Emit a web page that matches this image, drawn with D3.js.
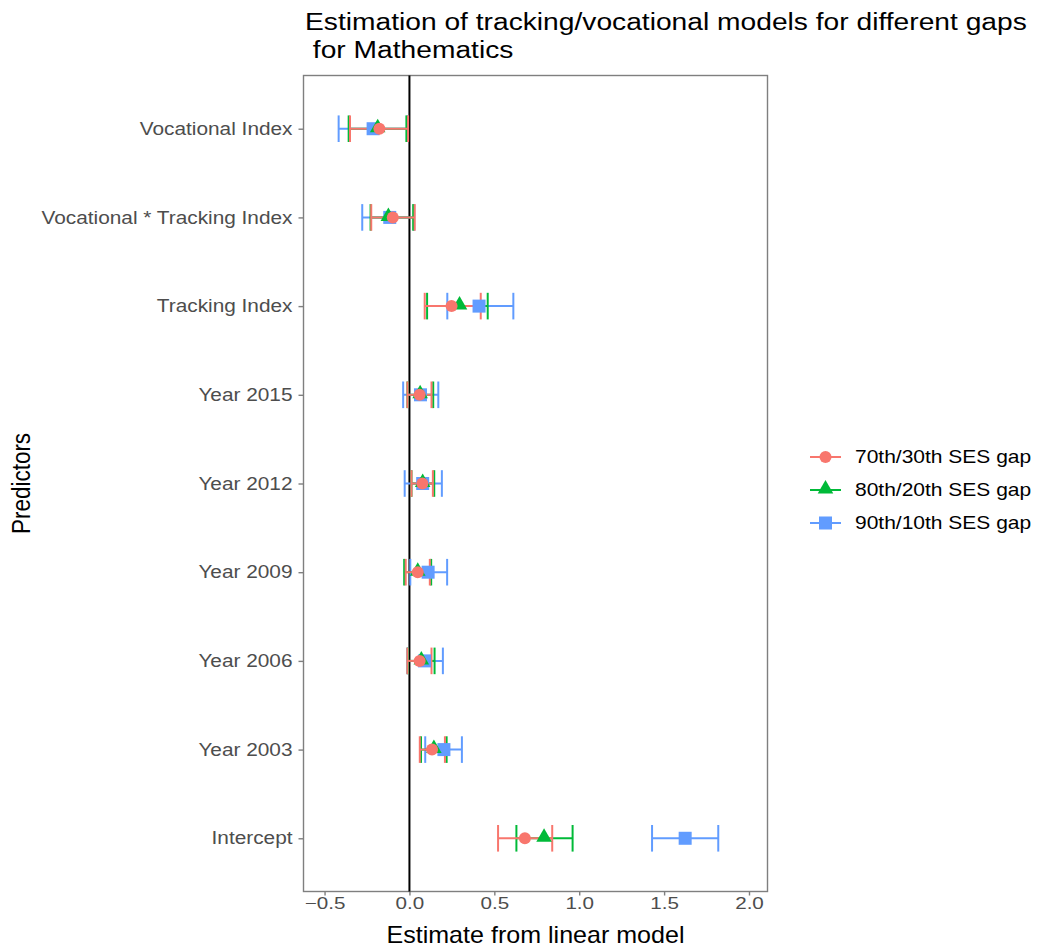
<!DOCTYPE html>
<html>
<head>
<meta charset="utf-8">
<script src="https://cdn.jsdelivr.net/npm/d3@7"></script>
<style>
  body { margin: 0; background: #fff; }
  svg { display: block; font-family: "Liberation Sans", Arial, Helvetica, sans-serif; }
</style>
</head>
<body>
<div id="chart"></div>
<script>
// predictors, top to bottom
var predictors = ["Vocational Index", "Vocational * Tracking Index", "Tracking Index",
  "Year 2015", "Year 2012", "Year 2009", "Year 2006", "Year 2003", "Intercept"];

var gaps = ["70th/30th SES gap", "80th/20th SES gap", "90th/10th SES gap"];
var gapColors = ["#F8766D", "#00BA38", "#619CFF"];
var gapShapes = ["circle", "triangle", "square"];

// estimates, lower, upper (same order as predictors)
var est70 = [-0.177, -0.098, 0.248, 0.060, 0.076, 0.049, 0.060, 0.133, 0.680];
var low70 = [-0.350, -0.225, 0.090, -0.012, 0.012, -0.022, -0.012, 0.061, 0.522];
var up70  = [-0.008, 0.031, 0.420, 0.130, 0.138, 0.120, 0.130, 0.209, 0.841];

var est80 = [-0.187, -0.124, 0.295, 0.063, 0.078, 0.049, 0.070, 0.144, 0.793];
var low80 = [-0.358, -0.229, 0.104, -0.012, 0.012, -0.031, -0.010, 0.068, 0.630];
var up80  = [-0.018, 0.022, 0.461, 0.140, 0.146, 0.128, 0.148, 0.219, 0.961];

var est90 = [-0.214, -0.116, 0.410, 0.065, 0.078, 0.110, 0.089, 0.203, 1.624];
var low90 = [-0.417, -0.278, 0.223, -0.037, -0.028, 0.005, -0.012, 0.093, 1.429];
var up90  = [-0.012, 0.028, 0.612, 0.170, 0.191, 0.222, 0.197, 0.309, 1.819];

var xTicks = [-0.5, 0, 0.5, 1, 1.5, 2];

var W = 1059, H = 952;
var panel = {left: 303.5, right: 767.5, top: 75.5, bottom: 891.5};

var svg = d3.select("#chart").append("svg").attr("width", W).attr("height", H);

var x = d3.scaleLinear().domain([-0.624, 2.109]).range([panel.left, panel.right]);
var y = d3.scaleLinear().domain([0.4, 9.6]).range([panel.top, panel.bottom]);
var yOf = function(i) { return y(i + 1); };

var series = [
  {est: est70, low: low70, up: up70},
  {est: est80, low: low80, up: up80},
  {est: est90, low: low90, up: up90}
];

// the picture's lettering is wider than the font, stretch text horizontally
function stretch(sel, sx) {
  sel.each(function() {
    var t = d3.select(this);
    var x0 = +t.attr("x") || 0;
    t.attr("x", x0 / sx).attr("transform", "scale(" + sx + ",1)");
  });
}

// panel border
svg.append("rect")
  .attr("x", panel.left).attr("y", panel.top)
  .attr("width", panel.right - panel.left).attr("height", panel.bottom - panel.top)
  .attr("fill", "none").attr("stroke", "#7f7f7f").attr("stroke-width", 1.4);

// axes
var xAxis = svg.append("g")
  .attr("transform", "translate(0," + panel.bottom + ")")
  .call(d3.axisBottom(x).tickValues(xTicks).tickSize(4).tickPadding(2)
    .tickFormat(function(d) { return d3.format(".1f")(d).replace("-", "\u2212"); }));
xAxis.select(".domain").remove();
xAxis.selectAll(".tick line").attr("stroke", "#7f7f7f").attr("stroke-width", 1.4);
xAxis.selectAll(".tick text").attr("fill", "#4d4d4d").attr("font-size", 16.5)
  .attr("font-family", "Liberation Sans, Arial, sans-serif");
stretch(xAxis.selectAll(".tick text"), 1.25);

var yAxis = svg.append("g")
  .attr("transform", "translate(" + panel.left + ",0)")
  .call(d3.axisLeft(y).tickValues(d3.range(1, 10)).tickSize(5).tickPadding(6)
    .tickFormat(function(d) { return predictors[d - 1]; }));
yAxis.select(".domain").remove();
yAxis.selectAll(".tick line").attr("stroke", "#7f7f7f").attr("stroke-width", 1.4);
yAxis.selectAll(".tick text").attr("fill", "#4d4d4d").attr("font-size", 17.5)
  .attr("font-family", "Liberation Sans, Arial, sans-serif");
stretch(yAxis.selectAll(".tick text"), 1.19);

// zero line
svg.append("line")
  .attr("x1", x(0)).attr("x2", x(0))
  .attr("y1", panel.top).attr("y2", panel.bottom)
  .attr("stroke", "#000").attr("stroke-width", 2);

var capH = (y(1.15) - y(1));

function drawShape(g, shape, cx, cy, color) {
  if (shape === "circle") {
    g.append("circle").attr("cx", cx).attr("cy", cy).attr("r", 6).attr("fill", color);
  } else if (shape === "triangle") {
    g.append("path").attr("d", d3.symbol().type(d3.symbolTriangle).size(105)())
      .attr("transform", "translate(" + cx + "," + (cy - 1) + ")").attr("fill", color);
  } else {
    g.append("rect").attr("x", cx - 6.5).attr("y", cy - 6.5)
      .attr("width", 13).attr("height", 13).attr("fill", color);
  }
}

// error bars (blue drawn first, red on top)
var bars = svg.append("g");
[2, 1, 0].forEach(function(k) {
  var s = series[k];
  predictors.forEach(function(p, i) {
    var cy = yOf(i);
    var g = bars.append("g").attr("stroke", gapColors[k]).attr("stroke-width", 2).attr("fill", "none");
    g.append("line").attr("x1", x(s.low[i])).attr("x2", x(s.up[i])).attr("y1", cy).attr("y2", cy);
    g.append("line").attr("x1", x(s.low[i])).attr("x2", x(s.low[i])).attr("y1", cy - capH).attr("y2", cy + capH);
    g.append("line").attr("x1", x(s.up[i])).attr("x2", x(s.up[i])).attr("y1", cy - capH).attr("y2", cy + capH);
  });
});

// points
var pts = svg.append("g");
[2, 1, 0].forEach(function(k) {
  var s = series[k];
  predictors.forEach(function(p, i) {
    drawShape(pts, gapShapes[k], x(s.est[i]), yOf(i), gapColors[k]);
  });
});

// titles
var t1 = svg.append("text").attr("x", 305).attr("y", 30).attr("font-size", 23.3).attr("fill", "#000")
  .text("Estimation of tracking/vocational models for different gaps");
var t2 = svg.append("text").attr("x", 305).attr("y", 58).attr("font-size", 23.3).attr("fill", "#000")
  .attr("xml:space", "preserve").text("\u00a0for Mathematics");
stretch(t1, 1.21);
stretch(t2, 1.21);

var xt = svg.append("text")
  .attr("x", (panel.left + panel.right) / 2).attr("y", 943)
  .attr("text-anchor", "middle").attr("font-size", 23).attr("fill", "#000")
  .text("Estimate from linear model");
stretch(xt, 1.09);

svg.append("text")
  .attr("transform", "translate(30," + ((panel.top + panel.bottom) / 2) + ") rotate(-90) scale(1,1.12)")
  .attr("text-anchor", "middle").attr("font-size", 22.5).attr("fill", "#000")
  .text("Predictors");

// legend
var legend = svg.append("g");
gaps.forEach(function(name, k) {
  var ly = 457 + k * 33;
  var lg = legend.append("g");
  lg.append("line").attr("x1", 810).attr("x2", 841).attr("y1", ly).attr("y2", ly)
    .attr("stroke", gapColors[k]).attr("stroke-width", 2);
  drawShape(lg, gapShapes[k], 825.5, ly, gapColors[k]);
  var lt = lg.append("text").attr("x", 855).attr("y", ly + 6).attr("font-size", 17.5).attr("fill", "#000").text(name);
  stretch(lt, 1.2);
});
</script>
</body>
</html>
